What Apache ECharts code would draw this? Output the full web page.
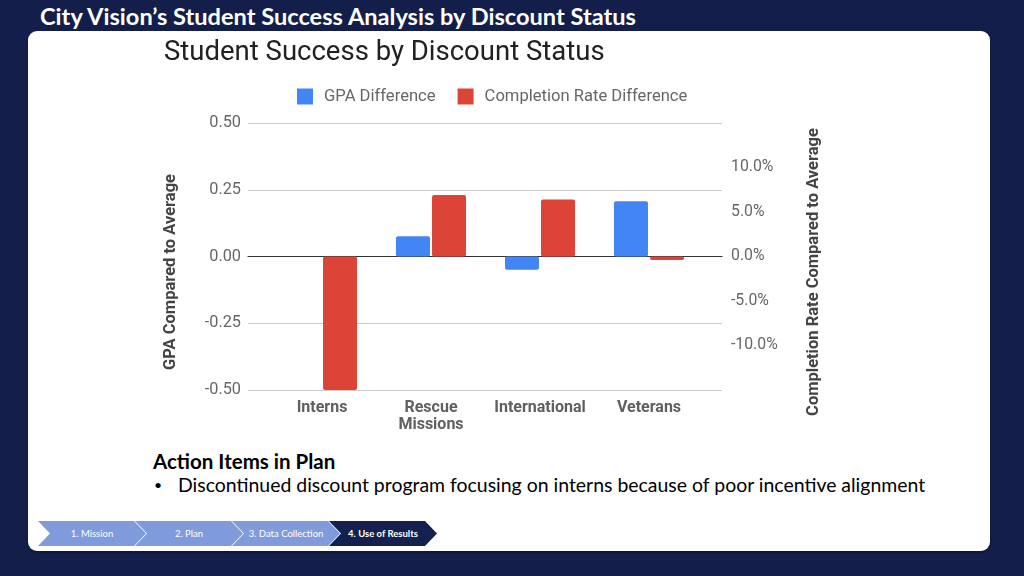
<!DOCTYPE html>
<html>
<head>
<meta charset="utf-8">
<script src="https://cdn.jsdelivr.net/npm/echarts@6/dist/echarts.min.js"></script>
<style>
  html, body { margin:0; padding:0; width:1024px; height:576px; overflow:hidden; background:#131f4a; }
  #slideTitle { position:absolute; left:40px; top:2px; color:#fff; font-family:Lato, "Open Sans", sans-serif; font-weight:700; font-size:23.6px; white-space:nowrap; }
  #card { position:absolute; left:28px; top:31px; width:962px; height:520px; background:#fff; border-radius:9px; box-shadow:0 2px 2px rgba(0,0,0,0.25); }
  #chart { position:absolute; left:0; top:0; width:1024px; height:576px; }
  #actions { position:absolute; left:153px; top:449px; font-family:Lato, "Open Sans", sans-serif; color:#000; white-space:nowrap; }
  #actions .head { font-weight:700; font-size:20.5px; line-height:24px; }
  #actions .item { font-size:19.45px; line-height:24px; position:relative; padding-left:25px; }
  #actions .item:before { content:"\2022"; position:absolute; left:1px; top:0; font-size:14px; }
  #crumbs { position:absolute; left:0; top:521px; width:460px; height:25px; }
</style>
</head>
<body>
<div id="slideTitle">City Vision’s Student Success Analysis by Discount Status</div>
<div id="card"></div>
<div id="actions">
  <div class="head">Action Items in Plan</div>
  <div class="item">Discontinued discount program focusing on interns because of poor incentive alignment</div>
</div>
<svg id="crumbs" width="460" height="25" xmlns="http://www.w3.org/2000/svg"></svg>
<div id="chart"></div>
<script>
// ---- data ----
const categories = ['Interns', 'Rescue\nMissions', 'International', 'Veterans'];
const gpaDiff = [null, 0.076, -0.05, 0.207];          // GPA compared to average
const completionDiff = [-15.0, 6.9, 6.4, -0.4];        // completion rate compared to average, %
const seriesNames = ['GPA Difference', 'Completion Rate Difference'];
const axisNames = ['GPA Compared to Average', 'Completion Rate Compared to Average'];
const crumbLabels = ['1. Mission', '2. Plan', '3. Data Collection', '4. Use of Results'];

// ---- breadcrumb ----
(function(){
  const svg = document.getElementById('crumbs');
  const w = 108, d = 12, h = 25, step = 97, x0 = 38;
  let html = '';
  crumbLabels.forEach((t, i) => {
    const x = x0 + i * step;
    const active = i === crumbLabels.length - 1;
    const pts = [[x,0],[x+w-d,0],[x+w,h/2],[x+w-d,h],[x,h],[x+d,h/2]].map(p=>p.join(',')).join(' ');
    html += '<polygon points="' + pts + '" fill="' + (active ? '#14204d' : '#7f9bdc') + '"/>';
    html += '<text x="' + (x + d/2 + (w - d)/2) + '" y="16" text-anchor="middle" fill="#fff" font-family="Lato, Open Sans, sans-serif" font-size="9.5" ' + (active ? 'font-weight="700"' : '') + '>' + t + '</text>';
  });
  svg.innerHTML = html;
})();

// ---- chart ----
const chart = echarts.init(document.getElementById('chart'), null, {renderer:'canvas'});
const font = 'Roboto';
const nameStyle = { fontFamily: font, fontSize: 16.5, fontWeight: 'bold', fill: '#444' };
const option = {
  animation: false,
  title: {
    text: 'Student Success by Discount Status',
    left: 159, top: 34,
    textStyle: { fontFamily: font, fontSize: 27.5, fontWeight: 'normal', color: '#212121' }
  },
  legend: {
    left: 292, top: 83,
    itemWidth: 16, itemHeight: 16, itemGap: 22,
    icon: 'rect',
    textStyle: { fontFamily: font, fontSize: 16.6, color: '#666', padding: [0,0,0,6] },
    data: seriesNames
  },
  color: ['#4285F4', '#DB4437'],
  grid: [
    { left: 248, right: 302, top: 123, bottom: 186 },
    { left: 267.5, width: 436, top: 123, bottom: 186 }
  ],
  graphic: [
    { type: 'text', x: 171, y: 272, rotation: Math.PI / 2,
      style: Object.assign({ text: axisNames[0], textAlign: 'center', textVerticalAlign: 'middle' }, nameStyle) },
    { type: 'text', x: 814, y: 272, rotation: Math.PI / 2,
      style: Object.assign({ text: axisNames[1], textAlign: 'center', textVerticalAlign: 'middle' }, nameStyle) }
  ],
  xAxis: [
    { type: 'category', gridIndex: 0, data: categories,
      axisLine: { show: true, onZero: true, lineStyle: { color: '#333', width: 1.2 } },
      axisTick: { show: false }, axisLabel: { show: false }, splitLine: { show: false } },
    { type: 'category', gridIndex: 1, data: categories,
      axisLine: { show: false, onZero: false }, axisTick: { show: false },
      axisLabel: { margin: 9, fontFamily: font, fontSize: 16, fontWeight: 'bold', color: '#5f5f5f', lineHeight: 17, interval: 0 } }
  ],
  yAxis: [
    { type: 'value', gridIndex: 0, position: 'left', min: -0.5, max: 0.5, interval: 0.25,
      axisLine: { show: false }, axisTick: { show: false },
      axisLabel: { margin: 7, fontFamily: font, fontSize: 16.3, color: '#666', formatter: v => v.toFixed(2) },
      splitLine: { show: true, lineStyle: { color: '#ccc', width: 1 } } },
    { type: 'value', gridIndex: 0, position: 'right', min: -15, max: 15, interval: 5,
      axisLine: { show: false }, axisTick: { show: false },
      axisLabel: { margin: 9, fontFamily: font, fontSize: 15.8, color: '#666',
        formatter: v => Math.abs(v) >= 15 ? '' : v.toFixed(1) + '%' },
      splitLine: { show: false } },
    { type: 'value', gridIndex: 1, min: -0.5, max: 0.5, interval: 0.25, show: false, splitLine: { show: false } },
    { type: 'value', gridIndex: 1, min: -15, max: 15, interval: 5, show: false, splitLine: { show: false } }
  ],
  series: [
    { name: seriesNames[0], type: 'bar', xAxisIndex: 1, yAxisIndex: 2, data: gpaDiff,
      barWidth: 34, barGap: '6%', itemStyle: { borderRadius: 2 }, z: 3 },
    { name: seriesNames[1], type: 'bar', xAxisIndex: 1, yAxisIndex: 3, data: completionDiff,
      barWidth: 34, barGap: '6%', itemStyle: { borderRadius: 2 }, z: 3 }
  ]
};
chart.setOption(option);
</script>
</body>
</html>
